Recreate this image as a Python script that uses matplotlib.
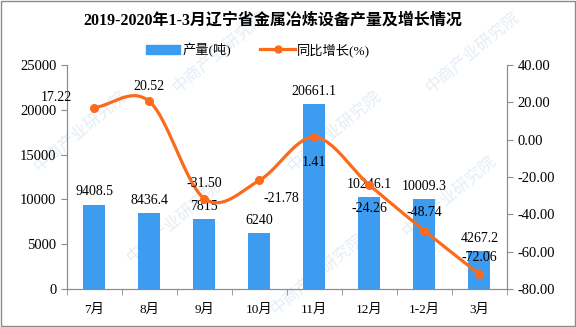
"""
2019-2020年1-3月辽宁省金属冶炼设备产量及增长情况: bars (output) + smoothed growth line.
"""
import numpy as np
import matplotlib
matplotlib.use('Agg')
import matplotlib.pyplot as plt
from matplotlib.lines import Line2D
from matplotlib.patches import Patch, Rectangle

plt.rcParams['font.family'] = ['Liberation Serif', 'Noto Sans CJK SC']
plt.rcParams['axes.unicode_minus'] = False

# Data
months = ['7月', '8月', '9月', '10月', '11月', '12月', '1-2月', '3月']
output = [9408.5, 8436.4, 7815, 6240, 20661.1, 10246.1, 10009.3, 4267.2]
output_labels = ['9408.5', '8436.4', '7815', '6240', '20661.1', '10246.1', '10009.3', '4267.2']
growth = [17.22, 20.52, -31.50, -21.78, 1.41, -24.26, -48.74, -72.06]

# label offsets (points) for the growth values
growth_offsets = [(-27, 7), (0, 11), (0, 11), (16, -13), (0, -18), (0, -17), (0, 13), (0, 12)]

bar_color = '#3d9bf0'
line_color = '#fc6a1c'


def smooth(x, y, n=30):
    # Catmull-Rom style curve through the points (like Excel's smoothed line)
    x = np.asarray(x, float)
    y = np.asarray(y, float)
    px = np.concatenate([[2 * x[0] - x[1]], x, [2 * x[-1] - x[-2]]])
    py = np.concatenate([[2 * y[0] - y[1]], y, [2 * y[-1] - y[-2]]])
    xs, ys = [], []
    for i in range(1, len(px) - 2):
        t = np.linspace(0, 1, n)
        for p, out in ((px, xs), (py, ys)):
            p0, p1, p2, p3 = p[i - 1], p[i], p[i + 1], p[i + 2]
            m1 = (p2 - p0) / 2
            m2 = (p3 - p1) / 2
            h00 = 2 * t**3 - 3 * t**2 + 1
            h10 = t**3 - 2 * t**2 + t
            h01 = -2 * t**3 + 3 * t**2
            h11 = t**3 - t**2
            out.extend(h00 * p1 + h10 * m1 + h01 * p2 + h11 * m2)
    return np.array(xs), np.array(ys)


fig = plt.figure(figsize=(5.76, 3.27), dpi=100)
fig.patches.append(Rectangle((0.001, 0.002), 0.997, 0.995, transform=fig.transFigure,
                             fill=False, edgecolor='#8c8c8c', linewidth=1.0))

ax = fig.add_axes([0.116, 0.116, 0.764, 0.685])
ax2 = ax.twinx()

x = np.arange(len(months))

# faint watermark, behind the axes
for wx, wy in [(0.14, 0.6), (0.38, 0.84), (0.3, 0.32), (0.58, 0.6), (0.82, 0.84),
               (0.78, 0.4), (0.55, 0.16)]:
    fig.text(wx, wy, '中商产业研究院', fontsize=12, color='#e4edf6', rotation=40,
             ha='center', va='center', family=['Noto Sans CJK SC'], zorder=-1)

ax.bar(x, output, width=0.4, color=bar_color, zorder=2)
for xi, v, lab in zip(x, output, output_labels):
    ax.text(xi, v + 700, lab, ha='center', va='bottom', fontsize=10, zorder=5)

ax.set_xlim(-0.5, len(months) - 0.5)
ax.set_ylim(0, 25000)
ax.set_yticks(np.arange(0, 25001, 5000))
ax.set_xticks(x)
ax.set_xticklabels(months, fontsize=9.5)
ax.set_xticks(np.arange(-0.5, len(months), 1), minor=True)
ax.tick_params(axis='x', which='major', length=0, pad=11)
ax.tick_params(axis='x', which='minor', length=4, color='#8c8c8c', direction='out')
ax.tick_params(axis='y', labelsize=10.5, length=4, color='#8c8c8c')

sx, sy = smooth(x, growth)
ax2.plot(sx, sy, color=line_color, linewidth=2.3, zorder=3)
ax2.plot(x, growth, 'o', color=line_color, markersize=5.5, zorder=4)
for xi, v, (dx, dy) in zip(x, growth, growth_offsets):
    ax2.annotate(f'{v:.2f}', (xi, v), xytext=(dx, dy), textcoords='offset points',
                 ha='center', va='center', fontsize=10, zorder=5)
ax2.set_ylim(-80, 40)
ax2.set_yticks(np.arange(-80, 41, 20))
ax2.set_yticklabels([f'{t:.2f}' for t in np.arange(-80, 41, 20)])
ax2.tick_params(axis='y', labelsize=10.5, length=4, color='#8c8c8c')

for a in (ax, ax2):
    a.set_facecolor('none')
    a.spines['top'].set_visible(False)
    for s in ('left', 'right', 'bottom'):
        a.spines[s].set_color('#8c8c8c')
ax2.set_zorder(1)
ax.set_zorder(0)

fig.text(0.474, 0.937, '2019-2020年1-3月辽宁省金属冶炼设备产量及增长情况', ha='center', va='center',
         fontsize=11.5, fontweight='bold')

handles = [Patch(color=bar_color), Line2D([], [], color=line_color, linewidth=2.3,
                                          marker='o', markersize=5)]
fig.legend(handles, ['产量(吨)', '同比增长(%)'], loc='center', bbox_to_anchor=(0.448, 0.848),
           ncol=2, frameon=False, fontsize=9.5, handlelength=2.6, columnspacing=2.2,
           handletextpad=0.2)

fig.savefig('out.png', dpi=100, facecolor='white')
